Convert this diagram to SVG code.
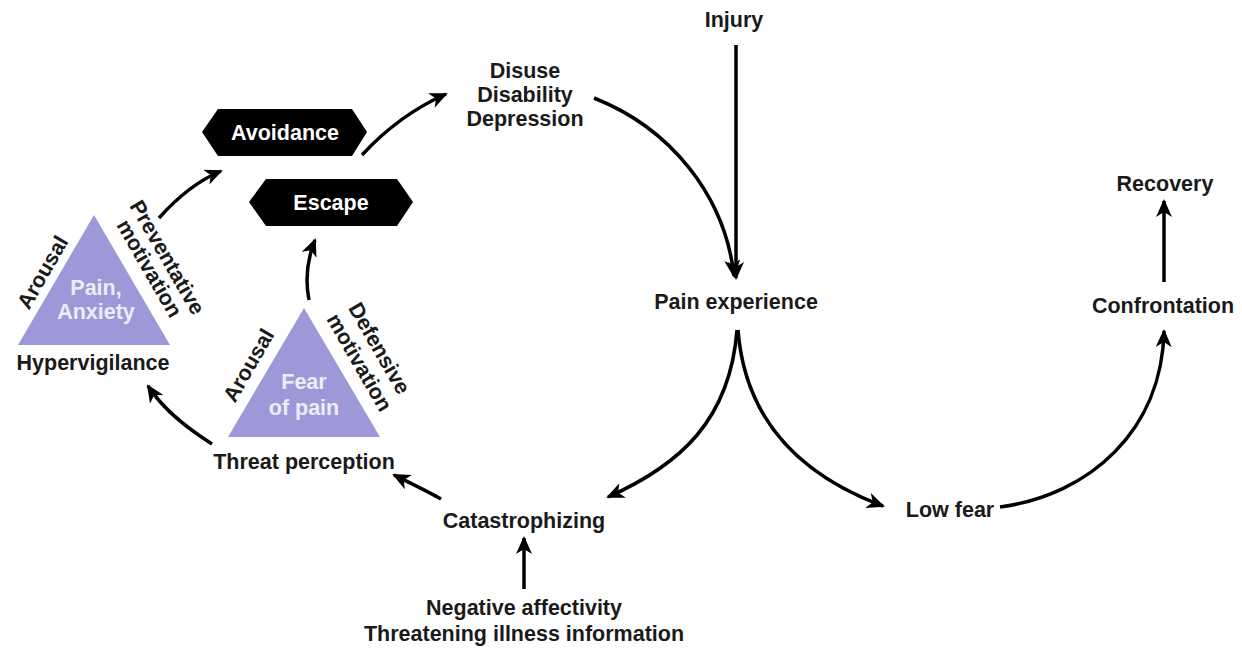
<svg xmlns="http://www.w3.org/2000/svg" width="1242" height="648" viewBox="0 0 1242 648">
<defs>
<style>
text{font-family:"Liberation Sans",Arial,Helvetica,sans-serif;font-weight:bold;font-size:21.5px;fill:#1a1a1a;text-anchor:middle}
.w{fill:#ffffff}
.tw{fill:#eeecf8}
.tri{fill:#9d99d9}
.hex{fill:#000000}
.c{fill:none;stroke:#000;stroke-width:3.5}
</style>
<marker id="ah" viewBox="0 0 18 16" refX="16" refY="8" markerWidth="18" markerHeight="16" markerUnits="userSpaceOnUse" orient="auto">
<path d="M0,0 L18,8 L0,16 L5,8 z" fill="#000"/>
</marker>
</defs>
<rect width="1242" height="648" fill="#fff"/>
<g id="connectors">
<path class="c" d="M736,45 L736,278" marker-end="url(#ah)"/>
<path class="c" d="M594,98 C670,128 725,195 734,276" marker-end="url(#ah)"/>
<path class="c" d="M362,155 C385,130 410,110 446,94" marker-end="url(#ah)"/>
<path class="c" d="M159,218 C175,200 195,182 221,171" marker-end="url(#ah)"/>
<path class="c" d="M309,300 C305,280 307,260 315,240" marker-end="url(#ah)"/>
<path class="c" d="M212,444 C190,430 165,412 148,386" marker-end="url(#ah)"/>
<path class="c" d="M441,499 C425,490 410,483 394,475" marker-end="url(#ah)"/>
<path class="c" d="M737,330 C730,420 680,465 608,497" marker-end="url(#ah)"/>
<path class="c" d="M738,330 C745,420 800,475 883,506" marker-end="url(#ah)"/>
<path class="c" d="M1000,507 C1090,495 1162,430 1164,331" marker-end="url(#ah)"/>
<path class="c" d="M1164,282 L1164,201" marker-end="url(#ah)"/>
<path class="c" d="M524,589 L524,538" marker-end="url(#ah)"/>
</g>
<g id="injury"><text x="734" y="27">Injury</text></g>
<g id="disuse"><text x="525" y="78">Disuse</text><text x="525" y="102">Disability</text><text x="525" y="126">Depression</text></g>
<g id="avoidance"><polygon class="hex" points="202,132 218,109 352,109 367,132 352,156 218,156"/><text class="w" x="285" y="140">Avoidance</text></g>
<g id="escape"><polygon class="hex" points="249,202 266,179 397,179 413,202 397,226 266,226"/><text class="w" x="331" y="210">Escape</text></g>
<g id="pain-anxiety"><polygon class="tri" points="94,215 18,345 170,345"/><text class="tw" x="96" y="295">Pain,</text><text class="tw" x="96" y="319">Anxiety</text></g>
<g id="arousal1"><text transform="translate(42,272) rotate(-60)" y="8">Arousal</text></g>
<g id="preventative"><text transform="translate(168,257) rotate(60)" y="8">Preventative</text><text transform="translate(150,268) rotate(60)" y="8">motivation</text></g>
<g id="hypervigilance"><text x="93" y="370">Hypervigilance</text></g>
<g id="fear-of-pain"><polygon class="tri" points="304,308 228,437 380,437"/><text class="tw" x="304" y="389">Fear</text><text class="tw" x="304" y="415">of pain</text></g>
<g id="arousal2"><text transform="translate(248,365) rotate(-60)" y="8">Arousal</text></g>
<g id="defensive"><text transform="translate(380,348) rotate(60)" y="8">Defensive</text><text transform="translate(360,362) rotate(60)" y="8">motivation</text></g>
<g id="threat"><text x="304" y="469">Threat perception</text></g>
<g id="catastrophizing"><text x="524" y="528">Catastrophizing</text></g>
<g id="negative"><text x="524" y="615">Negative affectivity</text><text x="524" y="641">Threatening illness information</text></g>
<g id="pain-experience"><text x="736" y="309">Pain experience</text></g>
<g id="low-fear"><text x="950" y="517">Low fear</text></g>
<g id="confrontation"><text x="1163" y="313">Confrontation</text></g>
<g id="recovery"><text x="1165" y="191">Recovery</text></g>
</svg>
